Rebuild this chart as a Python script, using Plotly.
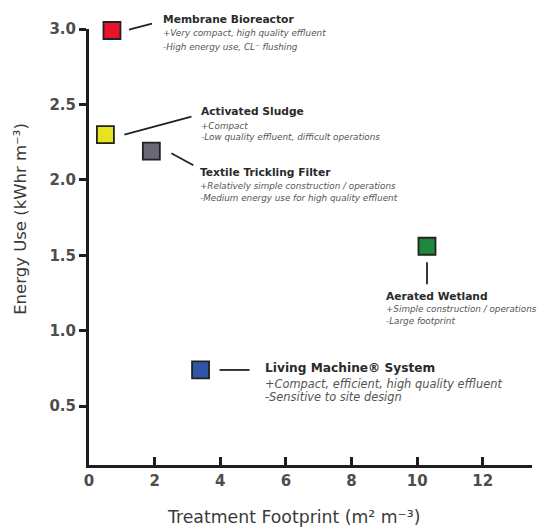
import plotly.graph_objects as go

# ---- data ----
systems = ["Membrane Bioreactor", "Activated Sludge", "Textile Trickling Filter",
           "Aerated Wetland", "Living Machine® System"]
footprint = [0.7, 0.5, 1.9, 10.3, 3.4]          # m² m⁻³
energy = [2.99, 2.30, 2.19, 1.56, 0.74]          # kWhr m⁻³
colors = ["#e8132e", "#e6e41e", "#686878", "#1d8a3b", "#2f55a6"]
notes = [
    ["+Very compact, high quality effluent", "-High energy use, CL⁻ flushing"],
    ["+Compact", "-Low quality effluent, difficult operations"],
    ["+Relatively simple construction / operations", "-Medium energy use for high quality effluent"],
    ["+Simple construction / operations", "-Large footprint"],
    ["+Compact, efficient, high quality effluent", "-Sensitive to site design"],
]
x_ticks = [0, 2, 4, 6, 8, 10, 12]
y_ticks = [0.5, 1.0, 1.5, 2.0, 2.5, 3.0]
x_range = [0, 13.5]
y_range = [0.11, 3.0]
x_title = "Treatment Footprint (m² m⁻³)"
y_title = "Energy Use (kWhr m⁻³)"

# ---- label layout (pixel offsets from marker centre, screen y down) ----
conn = [(17, -1, 40, -7), (19, 0, 86, -18), (20, 2, 42, 14), (0, 16, 0, 38), (19, 0, 49, 0)]
lab = [(49, -11), (94, -23), (47, 21), (-43, 50), (62, -2)]
sub_gap = [(13, 27), (14, 25), (14, 26), (13, 25), (16, 29)]
title_size = [10.7, 10.7, 10.7, 10.7, 12.2]
sub_size = [8.8, 8.8, 8.8, 8.8, 11.4]

fig = go.Figure()
fig.add_trace(go.Scatter(
    x=footprint, y=energy, mode="markers", cliponaxis=False,
    marker=dict(symbol="square", size=17, color=colors,
                line=dict(color="#222222", width=1.8)),
    hovertext=systems, showlegend=False))

shapes = []
annotations = []
for i in range(len(systems)):
    x0, y0, x1, y1 = conn[i]
    px = (footprint[i] - x_range[0]) / (x_range[1] - x_range[0])
    py = (energy[i] - y_range[0]) / (y_range[1] - y_range[0])
    shapes.append(dict(type="line", xref="paper", yref="paper",
                       xsizemode="pixel", ysizemode="pixel",
                       xanchor=px, yanchor=py,
                       x0=x0, x1=x1, y0=-y0, y1=-y1,
                       line=dict(color="#222222", width=1.8)))
    lx, ly = lab[i]
    annotations.append(dict(x=footprint[i], y=energy[i], xref="x", yref="y",
                            text="<b>" + systems[i] + "</b>", showarrow=False,
                            xanchor="left", yanchor="middle", xshift=lx, yshift=-ly,
                            font=dict(family="DejaVu Sans", size=title_size[i], color="#2a2a2a")))
    for j, t in enumerate(notes[i]):
        annotations.append(dict(x=footprint[i], y=energy[i], xref="x", yref="y",
                                text="<i>" + t + "</i>", showarrow=False,
                                xanchor="left", yanchor="middle", xshift=lx,
                                yshift=-(ly + sub_gap[i][j]),
                                font=dict(family="DejaVu Sans", size=sub_size[i], color="#555555")))

# axis titles (off-centre in the reference, so placed as annotations)
annotations.append(dict(text=x_title, xref="paper", yref="paper", x=0.4605, y=-0.120,
                        xanchor="center", yanchor="middle", showarrow=False,
                        font=dict(family="DejaVu Sans", size=17.3, color="#3a3a3a")))
annotations.append(dict(text=y_title, xref="paper", yref="paper", x=-0.1535, y=0.5646,
                        xanchor="center", yanchor="middle", showarrow=False, textangle=-90,
                        font=dict(family="DejaVu Sans", size=16.5, color="#3a3a3a")))

fig.update_layout(
    width=539, height=523,
    margin=dict(l=81, r=15, t=16, b=66),
    paper_bgcolor="white", plot_bgcolor="white",
    shapes=shapes, annotations=annotations,
    xaxis=dict(range=x_range, tickvals=x_ticks, showgrid=False, zeroline=False,
               showline=True, linewidth=3, linecolor="#1e1e1e",
               ticks="inside", ticklen=8, tickwidth=2.5, tickcolor="#1e1e1e",
               tickfont=dict(family="DejaVu Sans", size=15, color="#4d4d4d", weight="bold")),
    yaxis=dict(range=y_range, tickvals=y_ticks, tickformat=".1f",
               showgrid=False, zeroline=False,
               showline=True, linewidth=3, linecolor="#1e1e1e",
               ticks="outside", ticklen=7, tickwidth=2.5, tickcolor="#1e1e1e",
               tickfont=dict(family="DejaVu Sans", size=15, color="#4d4d4d", weight="bold")),
)

fig.write_html("out.html")
